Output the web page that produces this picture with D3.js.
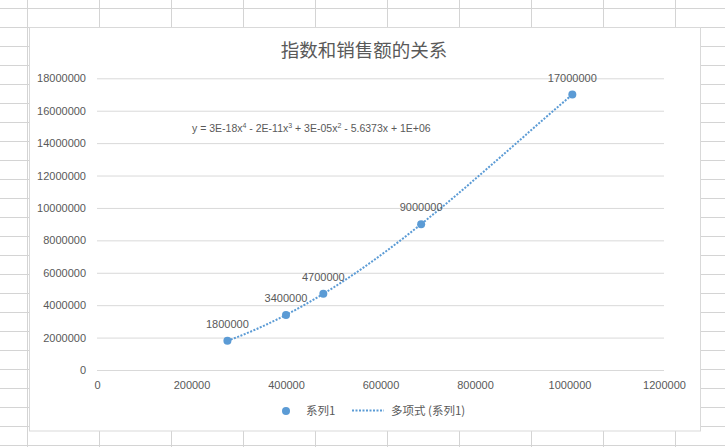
<!DOCTYPE html>
<html>
<head>
<meta charset="utf-8">
<script src="https://cdn.jsdelivr.net/npm/d3@7"></script>
<style>
  html, body { margin: 0; padding: 0; background: #fff; }
  svg { display: block; }
  text { font-family: "Liberation Sans", Arial, "Noto Sans CJK SC", sans-serif; fill: #595959; }
  .cjk { font-family: "Noto Sans CJK SC", "Liberation Sans", sans-serif; }
</style>
</head>
<body>
<div id="chart"></div>
<script>
// 指数 (x) and 销售额 (y)
const indexValues = [276000, 400000, 479000, 686000, 1006000]
const salesValues = [1800000, 3400000, 4700000, 9000000, 17000000]
const xTicks = [0, 200000, 400000, 600000, 800000, 1000000, 1200000]
const yTicks = [0, 2000000, 4000000, 6000000, 8000000, 10000000, 12000000, 14000000, 16000000, 18000000]
const titleText = "指数和销售额的关系"
const seriesName = "系列1"
const trendName = "多项式 (系列1)"
const polyOrder = 4

const width = 725
const height = 447
const blue = "#5b9bd5"

const svg = d3.select("#chart").append("svg")
    .attr("width", width)
    .attr("height", height)

// spreadsheet cells behind the chart
const sheet = svg.append("g").attr("stroke", "#d4d4d4").attr("stroke-width", 1)
for (let cx = 27.5; cx < width; cx += 72) {
    sheet.append("line").attr("x1", cx).attr("x2", cx).attr("y1", 0).attr("y2", height)
}
for (let cy = 8.5; cy < height; cy += 19) {
    sheet.append("line").attr("x1", 0).attr("x2", width).attr("y1", cy).attr("y2", cy)
}

// chart area
svg.append("rect")
    .attr("x", 29.5).attr("y", 27.5)
    .attr("width", 671).attr("height", 403.5)
    .attr("fill", "#fff")
    .attr("stroke", "#d9d9d9")

svg.append("text")
    .attr("class", "cjk")
    .attr("x", 364).attr("y", 57)
    .attr("text-anchor", "middle")
    .style("font-size", "18.5px")
    .text(titleText)

const x = d3.scaleLinear().domain([0, 1200000]).range([97, 664])
const y = d3.scaleLinear().domain([0, 18000000]).range([370, 78.3])

const yAxis = svg.append("g")
    .attr("transform", `translate(${x(0)},0)`)
    .call(d3.axisLeft(y).tickValues(yTicks).tickFormat(d3.format("d"))
        .tickSize(-(x.range()[1] - x.range()[0])).tickPadding(11))
yAxis.select(".domain").remove()
yAxis.selectAll(".tick line").attr("stroke", "#d9d9d9")
yAxis.selectAll(".tick text").style("font-size", "11px").attr("fill", "#595959")

const xAxis = svg.append("g")
    .attr("transform", `translate(0,${y(0)})`)
    .call(d3.axisBottom(x).tickValues(xTicks).tickFormat(d3.format("d")).tickSize(0).tickPadding(11))
xAxis.select(".domain").remove()
xAxis.selectAll(".tick text").style("font-size", "11px").attr("fill", "#595959")

// least squares polynomial fit (x scaled to millions)
function polyFit(xs, ys, order) {
    const n = order + 1
    const A = []
    for (let r = 0; r < n; r++) {
        A.push([])
        for (let c = 0; c <= n; c++) A[r].push(0)
    }
    xs.forEach((xv, i) => {
        const t = xv / 1e6
        for (let r = 0; r < n; r++) {
            for (let c = 0; c < n; c++) A[r][c] += Math.pow(t, r + c)
            A[r][n] += Math.pow(t, r) * ys[i]
        }
    })
    for (let p = 0; p < n; p++) {
        let best = p
        for (let r = p + 1; r < n; r++) if (Math.abs(A[r][p]) > Math.abs(A[best][p])) best = r
        const tmp = A[p]; A[p] = A[best]; A[best] = tmp
        for (let r = 0; r < n; r++) {
            if (r === p) continue
            const f = A[r][p] / A[p][p]
            for (let c = p; c <= n; c++) A[r][c] -= f * A[p][c]
        }
    }
    const coef = A.map((row, i) => row[n] / row[i])
    return xv => coef.reduce((s, c, i) => s + c * Math.pow(xv / 1e6, i), 0)
}

const fit = polyFit(indexValues, salesValues, polyOrder)
const xMin = d3.min(indexValues), xMax = d3.max(indexValues)
const trendPts = d3.range(0, 201).map(i => xMin + (xMax - xMin) * i / 200)

svg.append("path")
    .datum(trendPts)
    .attr("fill", "none")
    .attr("stroke", blue)
    .attr("stroke-width", 2)
    .attr("stroke-dasharray", "2 1.5")
    .attr("d", d3.line().x(d => x(d)).y(d => y(fit(d))))

const points = indexValues.map((v, i) => ({x: v, y: salesValues[i]}))

svg.append("g").selectAll("circle")
    .data(points)
    .join("circle")
    .attr("cx", d => x(d.x))
    .attr("cy", d => y(d.y))
    .attr("r", 4)
    .attr("fill", blue)

svg.append("g").selectAll("text")
    .data(points)
    .join("text")
    .attr("x", d => x(d.x))
    .attr("y", d => y(d.y) - 13)
    .attr("text-anchor", "middle")
    .style("font-size", "11px")
    .attr("fill", "#404040")
    .text(d => d3.format("d")(d.y))

// trendline equation
const eq = svg.append("text")
    .attr("x", 192).attr("y", 132)
    .style("font-size", "10.5px")
    .attr("fill", "#404040")
const eqParts = [["y = 3E-18x", "4"], [" - 2E-11x", "3"], [" + 3E-05x", "2"], [" - 5.6373x + 1E+06", null]]
let raised = false
eqParts.forEach(p => {
    eq.append("tspan").attr("dy", raised ? 4 : 0).text(p[0])
    raised = false
    if (p[1]) {
        eq.append("tspan").attr("dy", -4).style("font-size", "7px").text(p[1])
        raised = true
    }
})

// legend
const legend = svg.append("g")
legend.append("circle").attr("cx", 286).attr("cy", 411).attr("r", 4).attr("fill", blue)
legend.append("text").attr("class", "cjk").attr("x", 306).attr("y", 415).style("font-size", "11.5px").text(seriesName)
legend.append("line").attr("x1", 352).attr("x2", 384).attr("y1", 410.5).attr("y2", 410.5)
    .attr("stroke", blue).attr("stroke-width", 2).attr("stroke-dasharray", "2 1.5")
legend.append("text").attr("class", "cjk").attr("x", 391).attr("y", 415).style("font-size", "11.5px").text(trendName)
</script>
</body>
</html>
